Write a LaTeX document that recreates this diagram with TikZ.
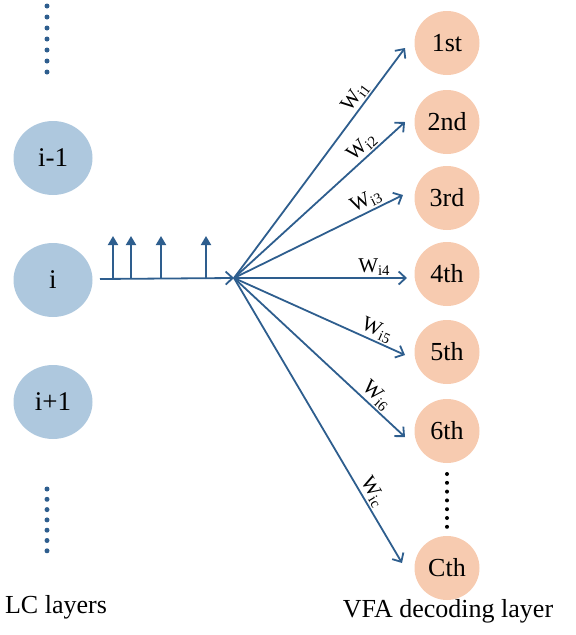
\documentclass[tikz,border=0pt]{standalone}
\usepackage{fontspec}
\setmainfont{Liberation Serif}
\usetikzlibrary{arrows.meta,shapes.geometric}
\definecolor{lcfill}{RGB}{174,200,222}
\definecolor{vfafill}{RGB}{247,203,176}
\definecolor{arr}{RGB}{46,94,142}
\tikzset{
  lcnode/.style={ellipse,fill=lcfill,minimum width=79pt,minimum height=74pt,inner sep=0pt,font=\fontsize{27}{30}\selectfont},
  vfanode/.style={ellipse,fill=vfafill,minimum width=65pt,minimum height=64pt,inner sep=0pt,font=\fontsize{26}{30}\selectfont},
  wire/.style={draw=arr,line width=1.8pt,-{Straight Barb[length=7pt,width=13pt,line width=1.8pt]}},
  pulse/.style={draw=arr,line width=1.8pt,-{Triangle[length=9pt,width=10pt]}},
  wlab/.style={font=\fontsize{21}{23}\selectfont,sloped,above,inner sep=1.5pt},
  bigdot/.style={circle,fill=arr,inner sep=0pt,minimum size=5pt},
  smalldot/.style={circle,fill=black,inner sep=0pt,minimum size=4pt},
  caption/.style={font=\fontsize{26}{30}\selectfont}
}
\begin{document}
\begin{tikzpicture}[x=1pt,y=-1pt]
\useasboundingbox (0,0) rectangle (576,635);
% left nodes
\node[lcnode] (lm) at (53,158) {i-1};
\node[lcnode] (li) at (53,280) {i};
\node[lcnode] (lp) at (53,402) {i+1};
% dots left
\foreach \k in {0,...,6} {
  \node[bigdot] (ta\k) at (47,6+\k*11) {};
  \node[bigdot] (tb\k) at (47,489+\k*10.3) {};
}
\node[caption] (lclab) at (56,607) {LC layers};
% right nodes
\node[vfanode] (r1) at (447,43) {1st};
\node[vfanode] (r2) at (447,122) {2nd};
\node[vfanode] (r3) at (447,198) {3rd};
\node[vfanode] (r4) at (447,274) {4th};
\node[vfanode] (r5) at (447,352) {5th};
\node[vfanode] (r6) at (447,431) {6th};
\node[vfanode] (rc) at (447,568) {Cth};
\foreach \k in {0,...,6} {
  \node[smalldot] (rd\k) at (447,474+\k*8.8) {};
}
\node[caption] (vfalab) at (448,611) {VFA decoding layer};
% horizontal arrow and pulses
\coordinate (hs) at (100,279);
\coordinate (fan) at (234,278);
\draw[wire] (hs) -- (fan);
\foreach \x/\n in {113/a,131/b,161/c,206/d} {
  \coordinate (pb\n) at (\x,279);
  \coordinate (pt\n) at (\x,236);
  \draw[pulse] (pb\n) -- (pt\n);
}
% fan arrows
\coordinate (t1) at (405,48);
\coordinate (t2) at (405,122);
\coordinate (t3) at (403,195);
\coordinate (t4) at (407,278);
\coordinate (t5) at (405,355);
\coordinate (t6) at (405,437);
\coordinate (t7) at (402,563);
\draw[wire] (fan) -- node[wlab,pos=0.76] {W\textsubscript{i1}} (t1);
\draw[wire] (fan) -- node[wlab,pos=0.79] {W\textsubscript{i2}} (t2);
\draw[wire] (fan) -- node[wlab,pos=0.81] {W\textsubscript{i3}} (t3);
\draw[wire] (fan) -- node[wlab,pos=0.81] {W\textsubscript{i4}} (t4);
\draw[wire] (fan) -- node[wlab,pos=0.81] {W\textsubscript{i5}} (t5);
\draw[wire] (fan) -- node[wlab,pos=0.79] {W\textsubscript{i6}} (t6);
\draw[wire] (fan) -- node[wlab,pos=0.77] {W\textsubscript{ic}} (t7);
\end{tikzpicture}
\end{document}
